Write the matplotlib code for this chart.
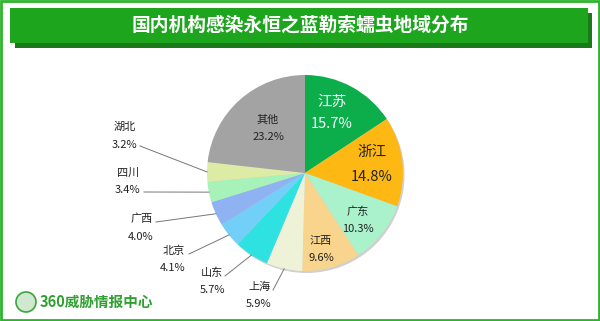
import matplotlib
matplotlib.use("Agg")
import matplotlib.pyplot as plt
import matplotlib.patches as mpatches
import numpy as np

plt.rcParams['font.family'] = ['Noto Sans CJK SC', 'DejaVu Sans']

# data
regions = ['江苏', '浙江', '广东', '江西', '上海', '山东', '北京', '广西', '四川', '湖北', '其他']
shares = [15.7, 14.8, 10.3, 9.6, 5.9, 5.7, 4.1, 4.0, 3.4, 3.2, 23.2]
colors = ['#0cae4c', '#fdb813', '#a9f2cc', '#f9d48c', '#eef2d6', '#2ee2e2',
          '#72d0f8', '#8eb2f2', '#a6f2b8', '#dcecA4', '#a3a3a3']
title = '国内机构感染永恒之蓝勒索蠕虫地域分布'

W, H = 600, 321
fig = plt.figure(figsize=(6, 3.21), dpi=100)
ax = fig.add_axes([0, 0, 1, 1])
ax.set_xlim(0, W)
ax.set_ylim(0, H)
ax.set_aspect('equal')
ax.axis('off')

def Y(py):
    return H - py

# frame
ax.add_patch(mpatches.Rectangle((1, 1), W - 2, H - 2, fill=False, ec='#2cb52c', lw=2))
# title banner with shadow
ax.add_patch(mpatches.Rectangle((15, Y(48)), 577, 35, fc='#1a7a1a', ec='none'))
ax.add_patch(mpatches.Rectangle((10, Y(43)), 578, 35, fc='#1ea51e', ec='none'))
ax.text(300, Y(25), title, color='white', fontsize=13.5, fontweight='bold',
        ha='center', va='center')

# pie, with a faint shadow underneath
cx, cy, R = 305, Y(173), 98
ax.add_patch(mpatches.Circle((cx + 1.5, cy - 2), R, fc='#d0d0d0', ec='none'))
wedges, _ = ax.pie(shares, colors=colors, startangle=90, counterclock=False,
                   center=(cx, cy), radius=R, wedgeprops=dict(linewidth=0))
ax.set_xlim(0, W)
ax.set_ylim(0, H)

# inner labels: (name position, pct position, fontsize, color)
inner = {
    '江苏': ((332, 102), (332, 124), 10.5, 'white'),
    '浙江': ((372, 152), (372, 177), 10.5, '#222222'),
    '广东': ((358, 212), (358, 229), 8, '#222222'),
    '江西': ((321, 241), (321, 258), 8, '#222222'),
    '其他': ((268, 120), (268, 137), 8, '#222222'),
}
# outer labels: (name position, pct position, line start)
outer = {
    '湖北': ((125, 127), (124, 145), (140, 146)),
    '四川': ((128, 173), (127, 190), (144, 192)),
    '广西': ((142, 219), (141, 237), (156, 222)),
    '北京': ((174, 251), (173, 268), (189, 254)),
    '山东': ((212, 273), (212, 290), (225, 276)),
    '上海': ((260, 287), (259, 304), (273, 290)),
}

cum = 0.0
total = sum(shares)
for name, val in zip(regions, shares):
    mid = 90 - 360 * (cum + val / 2) / total
    cum += val
    pct = '%.1f%%' % val
    if name in inner:
        (nx, ny), (px, py), fs, c = inner[name]
        ax.text(nx, Y(ny), name, fontsize=fs, color=c, ha='center', va='center')
        ax.text(px, Y(py), pct, fontsize=fs, color=c, ha='center', va='center')
    else:
        (nx, ny), (px, py), (sx, sy) = outer[name]
        ax.text(nx, Y(ny), name, fontsize=8, color='#222222', ha='center', va='center')
        ax.text(px, Y(py), pct, fontsize=8, color='#222222', ha='center', va='center')
        ex = cx + R * np.cos(np.radians(mid))
        ey = cy + R * np.sin(np.radians(mid))
        ax.plot([sx, ex], [Y(sy), ey], color='#777777', lw=0.7)

# logo
ax.add_patch(mpatches.Circle((26, Y(302)), 10, fc='#cfe8cf', ec='#3aa53a', lw=1.2))
ax.text(40, Y(302), '360威胁情报中心', color='#2fa02f', fontsize=10.5,
        fontweight='bold', ha='left', va='center')

fig.savefig('out.png', dpi=100)
